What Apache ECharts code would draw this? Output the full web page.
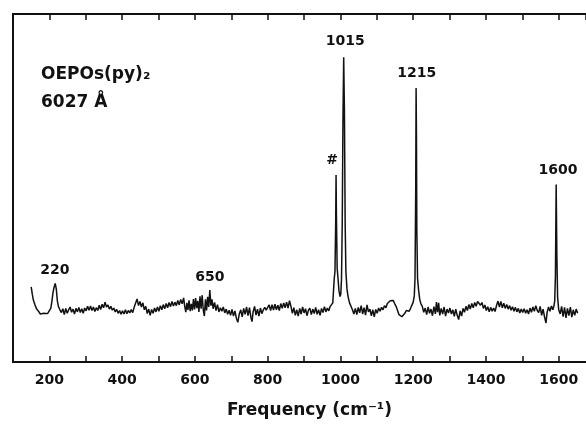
<!DOCTYPE html>
<html>
<head>
<meta charset="utf-8">
<script src="https://cdn.jsdelivr.net/npm/echarts@6/dist/echarts.min.js"></script>
<style>html,body{margin:0;padding:0;background:#fff}#c{width:586px;height:424px}</style>
</head>
<body>
<div id="c"></div>
<script>
// Raman spectrum: frequency (cm^-1) and relative intensity
var freq = [150,153,156,160,165,170,175,180,185,190,195,200,204,207,210,213,216,219,222,225,229,233,237,241,245,249,253,257,261,265,269,273,277,281,285,289,293,297,301,305,309,313,317,321,325,329,333,337,341,345,349,353,357,361,365,369,373,377,381,385,389,393,397,401,405,409,413,417,421,425,429,433,437,441,445,449,453,457,461,465,469,473,477,481,485,489,493,497,501,505,509,513,517,521,525,529,533,537,541,545,549,553,557,561,565,569,572,575,578,581,584,587,590,593,596,599,602,605,608,611,614,617,620,623,626,629,632,635,638,641,644,647,650,654,658,662,666,670,674,678,682,686,690,694,698,702,706,710,714,718,722,726,730,734,738,742,746,750,754,757,760,764,768,772,776,780,784,788,792,796,800,804,808,812,816,820,824,828,832,836,840,844,848,852,856,860,864,868,872,876,880,884,888,892,896,900,904,908,912,916,920,924,928,932,936,940,944,948,952,956,960,964,968,972,976,979,981,983,985,987,988,989,991,993,996,999,1001,1003,1005,1007,1009,1011,1013,1015,1018,1021,1025,1029,1033,1037,1041,1045,1049,1053,1057,1061,1065,1069,1073,1077,1081,1085,1089,1093,1097,1101,1105,1109,1113,1117,1121,1125,1129,1133,1137,1141,1145,1149,1153,1157,1161,1165,1169,1173,1177,1181,1185,1189,1193,1197,1200,1203,1205,1207,1208,1209,1210,1212,1215,1218,1221,1225,1229,1233,1237,1241,1245,1249,1253,1257,1261,1264,1267,1270,1273,1277,1281,1285,1289,1293,1297,1301,1305,1309,1313,1317,1321,1325,1329,1333,1337,1341,1345,1349,1353,1357,1361,1365,1369,1373,1377,1381,1385,1389,1393,1397,1401,1405,1409,1413,1417,1421,1425,1429,1433,1437,1441,1445,1449,1453,1457,1461,1465,1469,1473,1477,1481,1485,1489,1493,1497,1501,1505,1509,1513,1517,1521,1525,1529,1533,1537,1541,1545,1549,1553,1557,1561,1565,1568,1572,1576,1580,1584,1587,1589,1591,1593,1595,1597,1600,1604,1608,1612,1616,1620,1624,1628,1632,1636,1640,1644,1648,1652];
var intensity = [21.6,19.5,17.8,16.5,15.2,14.6,13.8,13.6,14.0,13.8,13.9,14.2,15.5,17.5,20.0,21.5,22.6,21.0,17.5,15.9,15.0,14.2,15.3,13.6,15.4,14.0,15.0,15.8,14.3,15.2,13.8,15.4,14.4,15.7,14.2,15.3,14.0,15.5,14.7,16.0,14.9,16.1,14.8,15.8,14.5,15.6,14.8,16.3,15.1,16.6,15.6,17.2,15.8,16.4,15.2,16.0,14.9,15.5,14.4,15.1,14.0,14.8,13.7,14.7,13.8,15.0,13.9,14.8,14.1,15.1,14.2,15.7,16.0,18.1,16.2,17.4,15.8,17.0,15.0,16.0,13.9,15.2,13.4,15.1,14.0,15.5,14.4,15.8,14.6,16.2,15.0,16.5,15.3,16.8,15.6,17.1,15.9,17.4,16.1,17.2,16.2,17.7,16.4,18.0,16.7,18.4,16.0,14.3,17.0,15.0,17.7,14.6,16.7,14.8,18.1,15.1,18.4,15.5,17.6,14.4,18.9,15.3,19.2,15.0,13.2,18.0,14.8,18.7,15.8,20.7,16.2,18.0,15.3,17.1,14.8,16.5,14.4,15.6,14.6,15.8,14.1,15.2,13.7,14.9,13.4,15.1,13.2,14.7,12.6,11.4,13.8,15.0,13.0,15.4,13.7,15.8,13.3,15.6,12.8,11.6,14.4,16.0,13.5,15.2,13.2,15.5,13.9,15.0,15.7,14.9,15.2,16.4,14.8,16.5,14.9,16.6,15.0,16.3,14.8,16.8,15.4,17.0,15.6,17.2,15.5,17.6,16.0,14.0,15.6,13.4,15.0,13.2,15.4,13.8,15.8,14.1,15.3,13.3,14.9,15.5,13.6,15.2,13.9,15.7,13.7,15.0,13.4,15.4,14.2,15.9,14.4,15.5,14.7,16.0,15.5,17.0,20.5,24.0,26.0,40.0,53.7,42.0,27.0,24.5,20.5,18.8,19.5,24.0,40.0,70.0,87.6,72.0,40.0,26.0,21.0,18.8,17.0,16.0,15.0,13.8,15.4,13.6,15.7,14.1,16.2,13.8,15.6,13.5,16.4,14.4,15.2,13.3,15.0,13.0,15.1,14.0,15.5,14.6,15.7,15.0,16.2,15.6,16.8,17.0,17.6,18.0,17.7,16.8,16.0,14.8,13.6,13.2,13.0,13.5,14.0,14.8,15.0,14.6,15.5,16.0,17.2,19.0,24.0,50.0,78.7,65.0,38.0,24.0,20.5,18.0,16.8,16.0,14.3,15.5,13.6,15.8,14.0,15.2,13.3,15.9,13.8,17.2,14.3,17.0,13.4,15.4,13.8,15.8,13.2,15.2,14.1,15.5,13.8,15.0,13.1,15.2,13.4,12.2,14.7,13.2,15.4,14.3,16.0,14.8,16.5,15.2,16.8,15.6,17.1,16.0,17.4,17.8,16.3,17.1,15.4,16.4,14.8,15.9,14.4,15.7,14.6,15.5,14.5,16.2,17.5,15.8,17.4,15.6,16.9,15.4,16.5,15.2,16.2,14.9,15.9,14.6,15.7,14.4,15.4,14.1,15.2,14.2,15.3,14.0,15.0,13.8,15.5,14.3,15.8,14.6,16.2,14.8,14.2,16.0,13.4,15.2,13.0,11.2,14.2,15.8,14.6,16.1,15.0,16.2,17.5,25.0,51.0,30.0,18.5,15.0,13.8,16.0,13.0,15.7,12.7,15.4,13.3,15.8,12.9,15.0,13.4,15.2,14.0];

// Peak annotations (text, frequency, intensity where the label sits)
var peakLabelText = ['220','650','#','1015','1215','1600'];
var peakLabelX = [215, 641, 977, 1013, 1210, 1598];
var peakLabelY = [26.4, 24.4, 57.8, 92.0, 83.0, 55.2];

// Axis tick settings
var xMin = 100, xMax = 1675, xTickStep = 100, xLabelStep = 200;

var FONT = 'DejaVu Sans';
var chart = echarts.init(document.getElementById('c'), null, {renderer: 'canvas'});

var lineData = freq.map(function (f, i) { return [f, intensity[i]]; });
var labelData = peakLabelText.map(function (t, i) { return {value: [peakLabelX[i], peakLabelY[i]], name: t}; });

chart.setOption({
  animation: false,
  backgroundColor: '#fff',
  title: {
    text: 'OEPOs(py)₂\n6027 Å',
    left: 36,
    top: 56,
    textStyle: {fontFamily: FONT, fontSize: 17, fontWeight: 'bold', color: '#111', lineHeight: 28}
  },
  grid: {left: 13, right: 0, top: 14, bottom: 62, containLabel: false},
  xAxis: [{
    type: 'value', position: 'bottom', min: xMin, max: xMax, interval: xTickStep,
    axisLine: {show: true, onZero: false, lineStyle: {color: '#111', width: 2}},
    axisTick: {show: true, inside: true, length: 6, lineStyle: {color: '#111', width: 1.5}},
    splitLine: {show: false},
    axisLabel: {
      show: true, margin: 11, color: '#111', fontFamily: FONT, fontSize: 14, fontWeight: 'bold',
      showMinLabel: false, showMaxLabel: false,
      formatter: function (v) { return (v % xLabelStep === 0) ? String(v) : ''; }
    },
    name: 'Frequency (cm⁻¹)', nameLocation: 'middle', nameGap: 40,
    nameTextStyle: {fontFamily: FONT, fontSize: 17, fontWeight: 'bold', color: '#111', padding: [0, 0, 0, 20]}
  }, {
    type: 'value', position: 'top', min: xMin, max: xMax, interval: xTickStep,
    axisLine: {show: true, onZero: false, lineStyle: {color: '#111', width: 2}},
    axisTick: {show: true, inside: true, length: 6, lineStyle: {color: '#111', width: 1.5}},
    splitLine: {show: false},
    axisLabel: {show: false}
  }],
  yAxis: {
    type: 'value', min: 0, max: 100,
    axisLine: {show: true, onZero: false, lineStyle: {color: '#111', width: 2}},
    axisTick: {show: false}, axisLabel: {show: false}, splitLine: {show: false}
  },
  series: [{
    type: 'line', data: lineData, showSymbol: false, symbol: 'none',
    lineStyle: {color: '#111', width: 1.5}, xAxisIndex: 0
  }, {
    type: 'scatter', data: labelData, symbolSize: 0, xAxisIndex: 0,
    itemStyle: {color: '#111', opacity: 1},
    label: {
      show: true, position: 'inside', color: '#111', fontFamily: FONT, fontSize: 14, fontWeight: 'bold',
      textBorderWidth: 0,
      formatter: function (p) { return p.name; }
    }
  }]
});
</script>
</body>
</html>
